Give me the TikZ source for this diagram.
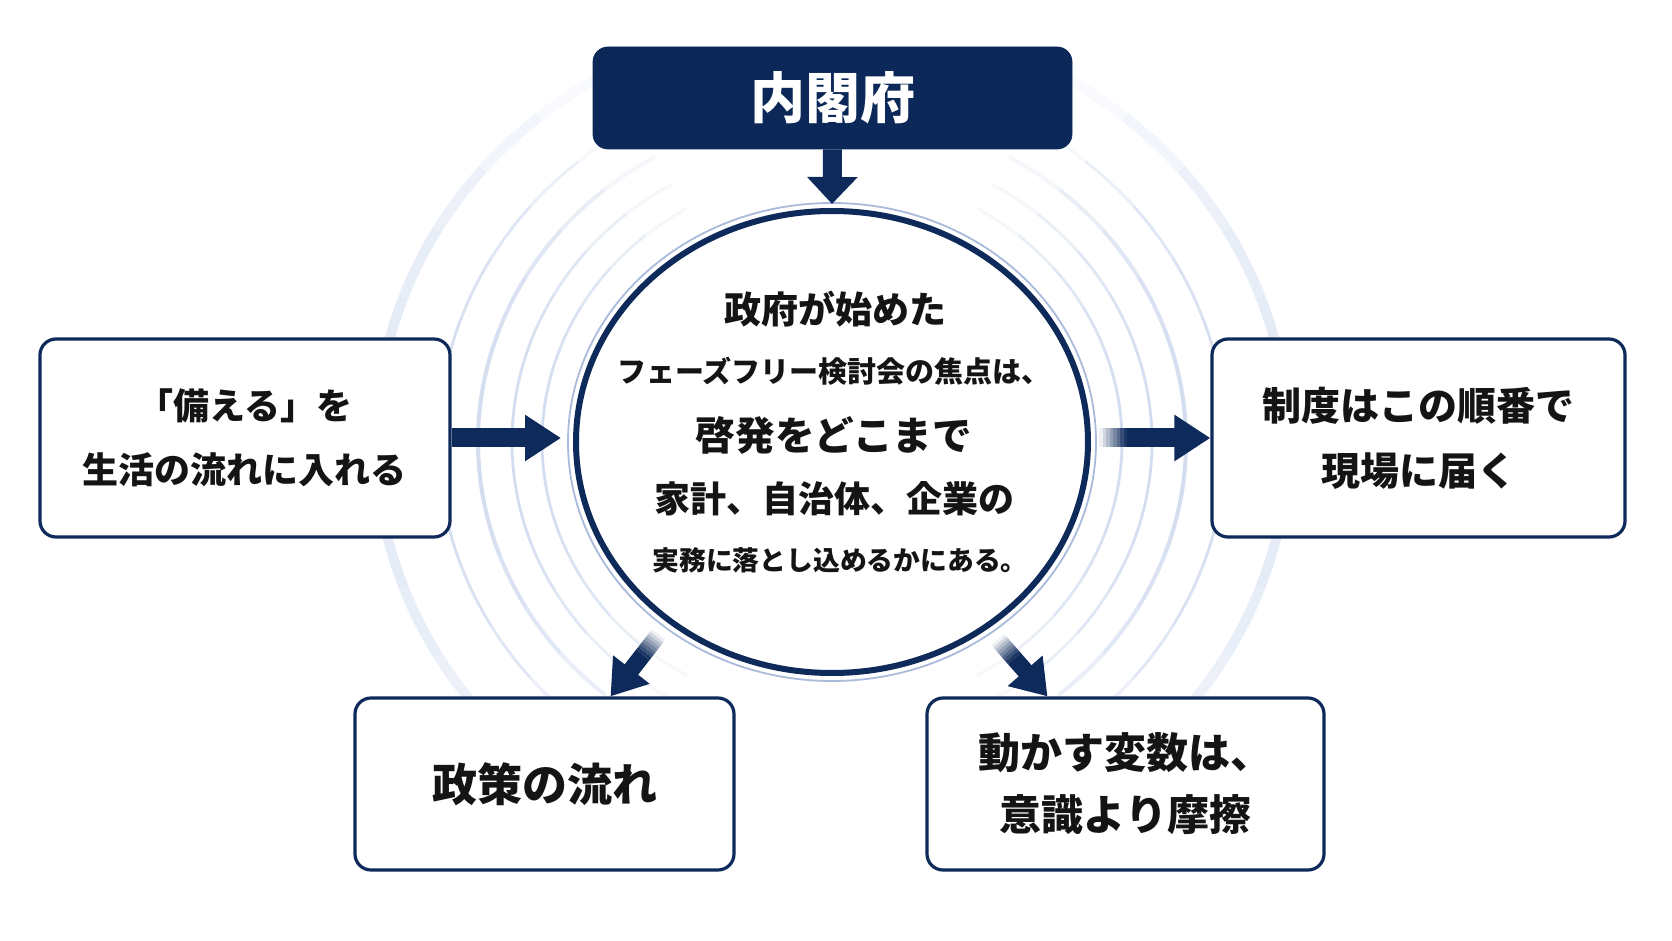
\documentclass[tikz,border=0pt]{standalone}
\usepackage{fontspec}
\newfontfamily\jp{Noto Sans CJK JP}
\usetikzlibrary{shapes.geometric,arrows.meta,calc}
\definecolor{navy}{HTML}{0E2A5A}
\definecolor{topfill}{HTML}{0C2858}
\definecolor{arcblue}{HTML}{D3DDF0}
\definecolor{arcpale}{HTML}{E4EBF7}
\definecolor{haloblue}{HTML}{A9BADB}
\definecolor{txt}{HTML}{141414}
\tikzset{
  box/.style={draw=navy, line width=1.6pt, rounded corners=8pt, fill=white, inner sep=0pt, align=center, text=txt},
  topbox/.style={fill=topfill, draw=topfill, rounded corners=7.5pt, inner sep=0pt, text=white},
  ctext/.style={inner sep=0pt, text=txt},
  shaftH/.style={draw=navy, line width=9.5pt},
  arrH/.style={draw=navy, line width=9.5pt, -{Triangle[length=18pt,width=22pt]}},
  arrTop/.style={draw=navy, line width=9.5pt, -{Triangle[length=13.5pt,width=24.5pt]}},
  shaftD/.style={draw=navy, line width=8.5pt},
  arrD/.style={draw=navy, line width=8.5pt, -{Triangle[length=17pt,width=22pt]}}
}
\newcommand\fadedshaft[3]{%
  \foreach \i in {0,...,7}{%
    \pgfmathsetmacro\fa{\i/8}%
    \pgfmathsetmacro\fb{(\i+1)/8}%
    \pgfmathsetmacro\fo{(\i+0.5)/8}%
    \draw[#3, draw opacity=\fo] ($(#1)!\fa!(#2)$) -- ($(#1)!\fb!(#2)$);
  }}
\begin{document}
\begin{tikzpicture}[x=0.5pt,y=-0.5pt]
\useasboundingbox (0,0) rectangle (1672,941);
\fill[white] (0,0) rectangle (1672,941);
\coordinate (o) at (832,442);
% background ripple arcs
\foreach \R/\w/\col in {145/1.4/arcblue, 160/1.4/arcblue, 177/2/arcblue, 197/1.4/arcblue, 228/5/arcpale} {
  \pgfmathsetmacro\ry{0.93*\R}
  \foreach \k in {-6,...,5} {
    \pgfmathsetmacro\off{10*\k}
    \pgfmathsetmacro\m{abs(\off+5)/62}
    \pgfmathsetmacro\op{1-\m*\m}
    \pgfmathsetmacro\aL{180+\off}
    \pgfmathsetmacro\bL{190+\off}
    \pgfmathsetmacro\aR{\off}
    \pgfmathsetmacro\bR{10+\off}
    \draw[\col, line width=\w pt, draw opacity=\op] ($(o)+(\aL:\R pt and \ry pt)$) arc[start angle=\aL, end angle=\bL, x radius=\R pt, y radius=\ry pt];
    \draw[\col, line width=\w pt, draw opacity=\op] ($(o)+(\aR:\R pt and \ry pt)$) arc[start angle=\aR, end angle=\bR, x radius=\R pt, y radius=\ry pt];
  }
}
% halo ring
\draw[haloblue, line width=0.9pt] (o) ellipse[x radius=132pt, y radius=119.5pt];
% central ellipse
\node[ellipse, draw=navy, line width=3pt, fill=white, minimum width=256pt, minimum height=231pt, inner sep=0pt] (c) at (o) {};
\node[ctext, font=\jp\bfseries\fontsize{18.5pt}{20pt}\selectfont] (t1) at (835,309) {政府が始めた};
\node[ctext, font=\jp\bfseries\fontsize{14.5pt}{16pt}\selectfont] (t2) at (834,371) {フェーズフリー検討会の焦点は、};
\node[ctext, font=\jp\bfseries\fontsize{19.8pt}{22pt}\selectfont] (t3) at (834,435) {啓発をどこまで};
\node[ctext, font=\jp\bfseries\fontsize{18pt}{20pt}\selectfont] (t4) at (834,499) {家計、自治体、企業の};
\node[ctext, font=\jp\bfseries\fontsize{13.4pt}{15pt}\selectfont] (t5) at (840,560) {実務に落とし込めるかにある。};
% boxes
\node[topbox, minimum width=239.5pt, minimum height=51pt, font=\jp\bfseries\fontsize{27.5pt}{30pt}\selectfont] (top) at (832.5,98) {内閣府};
\node[box, minimum width=205pt, minimum height=99pt, font=\jp\bfseries\fontsize{18pt}{32pt}\selectfont] (lb) at (245,438) {「備える」を\\生活の流れに入れる};
\node[box, minimum width=206.5pt, minimum height=99pt, font=\jp\bfseries\fontsize{19.5pt}{32.5pt}\selectfont] (rb) at (1418.5,438) {制度はこの順番で\\現場に届く};
\node[box, minimum width=189.5pt, minimum height=86pt, font=\jp\bfseries\fontsize{22.5pt}{25pt}\selectfont] (bl) at (544.5,784) {政策の流れ};
\node[box, minimum width=198.5pt, minimum height=86pt, font=\jp\bfseries\fontsize{21pt}{31pt}\selectfont] (br) at (1125.5,784) {動かす変数は、\\意識より摩擦};
% connectors
\draw[arrTop, shorten >=2pt] (top.south) -- (c.north);
\draw[arrH, shorten >=6pt] (lb.east) -- (lb.east -| c.west);
\coordinate (r1) at ($(c.east |- rb.west)+(4pt,0)$);
\coordinate (r2) at ($(r1)+(14pt,0)$);
\fadedshaft{r1}{r2}{shaftH}
\draw[arrH] (r2) -- (rb.west);
\coordinate (bltip) at ([xshift=33pt]bl.north);
\coordinate (d1) at ($(c.center)!1.06!(c.228)$);
\coordinate (d2) at ($(d1)!0.33!(bltip)$);
\fadedshaft{d1}{d2}{shaftD}
\draw[arrD] (d2) -- (bltip);
\coordinate (brtip) at ([xshift=-39pt]br.north);
\coordinate (e1) at ($(c.center)!1.06!(c.310)$);
\coordinate (e2) at ($(e1)!0.33!(brtip)$);
\fadedshaft{e1}{e2}{shaftD}
\draw[arrD] (e2) -- (brtip);
\end{tikzpicture}
\end{document}
